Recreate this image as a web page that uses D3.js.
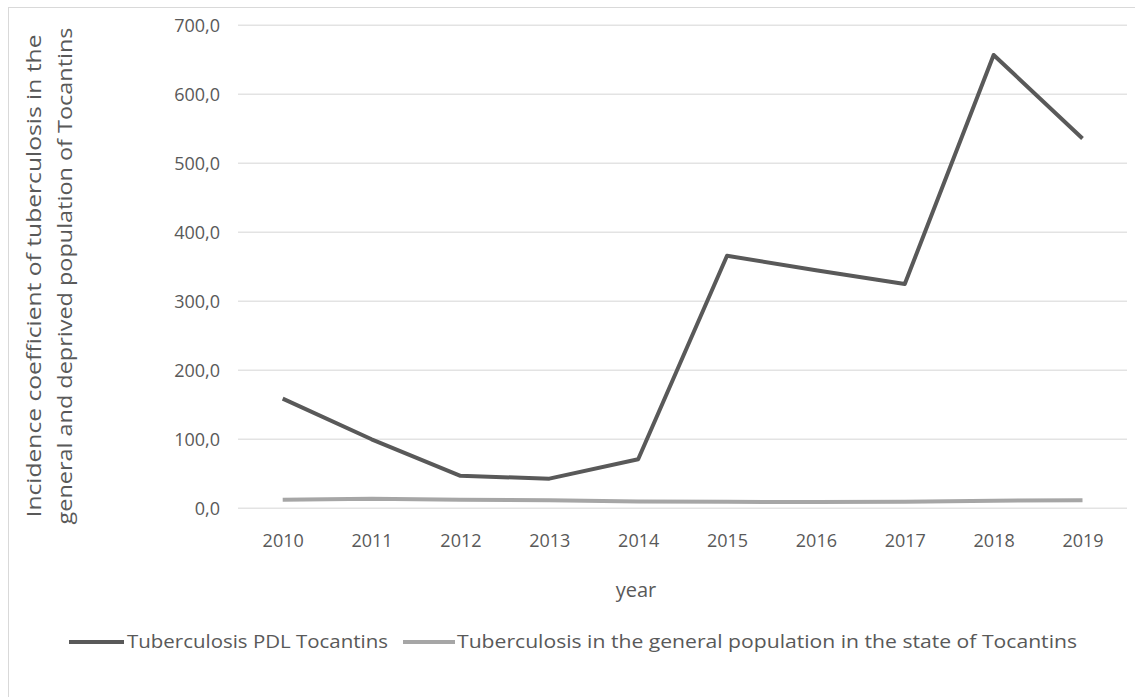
<!DOCTYPE html>
<html><head><meta charset="utf-8">
<script src="https://cdn.jsdelivr.net/npm/d3@7"></script>
<style>body{margin:0;background:#fff}</style>
</head><body>
<svg id="c" width="1135" height="697"></svg>
<script>
const years = ["2010","2011","2012","2013","2014","2015","2016","2017","2018","2019"];
const pdl = [159, 100, 47, 43, 71, 366, 345, 325, 657, 536];
const general = [12.5, 14, 12.5, 11.5, 10, 9.5, 9, 9.5, 11, 11.5];
const yTicks = [0,100,200,300,400,500,600,700];
const seriesNames = ["Tuberculosis PDL Tocantins","Tuberculosis in the general population in the state of Tocantins"];
const colors = ["#595959","#a6a6a6"];

const svg = d3.select("#c");
const font = "'Open Sans', sans-serif";
svg.append("rect").attr("x",8.5).attr("y",7.5).attr("width",1140).attr("height",700)
  .attr("fill","none").attr("stroke","#d9d9d9");

const x = d3.scalePoint().domain(years).range([282.7,1082.5]);
const y = d3.scaleLinear().domain([0,700]).range([508.3,25.3]);

// gridlines
svg.append("g").selectAll("line").data(yTicks).join("line")
  .attr("x1",238).attr("x2",1127).attr("y1",d=>y(d)).attr("y2",d=>y(d))
  .attr("stroke","#e3e3e3").attr("stroke-width",1.5);

// y axis
const ya = svg.append("g").attr("transform","translate(232,0)")
  .call(d3.axisLeft(y).tickValues(yTicks).tickSize(0).tickPadding(0)
  .tickFormat(d=>d3.format(".1f")(d).replace(".",",")));
ya.select(".domain").remove();
ya.selectAll("text").attr("font-family",font).attr("font-size",18).attr("fill","#595959").attr("x",-12).attr("dy","0.35em");

// x axis
const xa = svg.append("g").attr("transform","translate(0,541)")
  .call(d3.axisBottom(x).tickSize(0).tickPadding(0));
xa.select(".domain").remove();
xa.selectAll("text").attr("font-family",font).attr("font-size",18).attr("fill","#595959").attr("dy","0.35em");

const line = d3.line().x((d,i)=>x(years[i])).y(d=>y(d));
svg.append("path").datum(general).attr("d",line).attr("fill","none")
  .attr("stroke",colors[1]).attr("stroke-width",4).attr("stroke-linejoin","round");
svg.append("path").datum(pdl).attr("d",line).attr("fill","none")
  .attr("stroke",colors[0]).attr("stroke-width",4).attr("stroke-linejoin","round");

// axis titles
svg.append("text").attr("x",636).attr("y",590).attr("dy","0.35em").attr("text-anchor","middle")
  .attr("font-family",font).attr("font-size",20).attr("fill","#595959").text("year");
const yt = svg.append("text").attr("transform","translate(0,276) rotate(-90)")
  .attr("text-anchor","middle").attr("font-family",font).attr("font-size",19.5).attr("fill","#595959");
yt.append("tspan").attr("x",0).attr("y",41).attr("textLength",483).attr("lengthAdjust","spacingAndGlyphs").text("Incidence coefficient of tuberculosis in the");
yt.append("tspan").attr("x",0).attr("y",72).attr("textLength",497).attr("lengthAdjust","spacingAndGlyphs").text("general and deprived population of Tocantins");

// legend
const leg = [{x1:69,x2:124,tx:127,w:261},{x1:403,x2:455,tx:457,w:620}];
leg.forEach((l,i)=>{
  svg.append("line").attr("x1",l.x1).attr("x2",l.x2).attr("y1",642).attr("y2",642)
    .attr("stroke",colors[i]).attr("stroke-width",4);
  svg.append("text").attr("x",l.tx).attr("y",642).attr("dy","0.35em")
    .attr("textLength",l.w).attr("lengthAdjust","spacingAndGlyphs")
    .attr("font-family",font).attr("font-size",18).attr("fill","#595959").text(seriesNames[i]);
});
</script>
</body></html>
